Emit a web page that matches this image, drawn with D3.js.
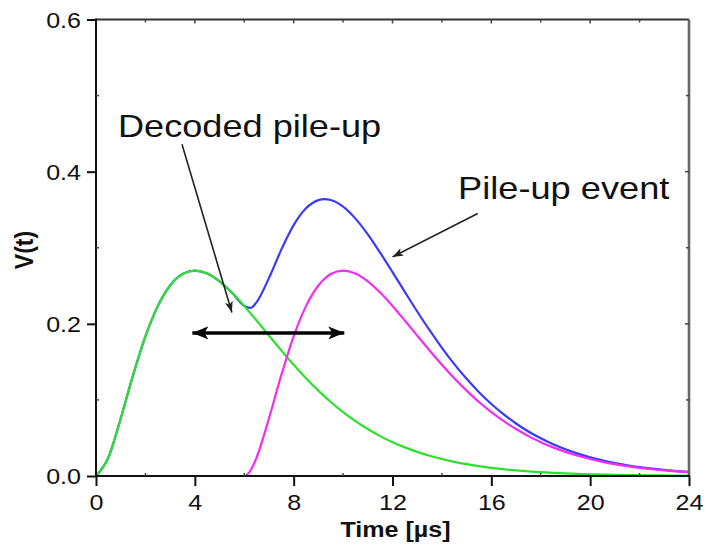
<!DOCTYPE html>
<html>
<head>
<meta charset="utf-8">
<script src="https://cdn.jsdelivr.net/npm/d3@7"></script>
<style>
  html, body { margin: 0; padding: 0; background: #fff; }
  svg { display: block; }
  text { font-family: "Liberation Sans", Arial, Helvetica, sans-serif; fill: #111; }
</style>
</head>
<body>
<svg id="chart" width="707" height="549"></svg>
<script>
// Sample times in µs (extra points at 6.25 and 9.25 resolve the dip and crest of the summed pulse)
const times = [0,0.5,1,1.5,2,2.5,3,3.5,4,4.5,5,5.5,6,6.25,6.5,7,7.5,8,8.5,9,9.25,9.5,10,10.5,11,11.5,12,12.5,13,13.5,14,14.5,15,15.5,16,16.5,17,17.5,18,18.5,19,19.5,20,20.5,21,21.5,22,22.5,23,23.5,24];

// First shaped pulse (decoded component)
const firstPulse = [0,0.0243,0.0756,0.1325,0.1835,0.2233,0.2504,0.2654,0.2700,0.2661,0.2559,0.2411,0.2235,0.2140,0.2043,0.1845,0.1650,0.1462,0.1285,0.1122,0.1046,0.0973,0.0840,0.0722,0.0617,0.0524,0.0445,0.0376,0.0317,0.0266,0.0223,0.0186,0.0155,0.0129,0.0107,0.0089,0.0073,0.0060,0.0050,0.0041,0.0034,0.0028,0.0023,0.0019,0.0015,0.0012,0.0010,0.0008,0.0007,0.0005,0.0004];

// Second shaped pulse, arriving at 6 µs (decoded component)
const secondPulse = [0,0,0,0,0,0,0,0,0,0,0,0,0,0.0069,0.0243,0.0756,0.1325,0.1835,0.2233,0.2504,0.2593,0.2654,0.2700,0.2661,0.2559,0.2411,0.2235,0.2043,0.1845,0.1650,0.1462,0.1285,0.1122,0.0973,0.0840,0.0722,0.0617,0.0524,0.0445,0.0376,0.0317,0.0266,0.0223,0.0186,0.0155,0.0129,0.0107,0.0089,0.0073,0.0060,0.0050];

// Recorded pile-up event
const pileUp = [0,0.0243,0.0756,0.1325,0.1835,0.2233,0.2504,0.2654,0.2700,0.2661,0.2559,0.2411,0.2235,0.2209,0.2286,0.2601,0.2975,0.3297,0.3518,0.3626,0.3639,0.3627,0.3540,0.3383,0.3176,0.2935,0.2680,0.2419,0.2162,0.1916,0.1685,0.1471,0.1277,0.1102,0.0947,0.0811,0.0690,0.0584,0.0495,0.0417,0.0351,0.0294,0.0246,0.0205,0.0170,0.0141,0.0117,0.0097,0.0080,0.0065,0.0054];

const xTicks = [0,4,8,12,16,20,24];
const xTickLabels = ["0","4","8","12","16","20","24"];
const yTicks = [0,0.2,0.4,0.6];
const yTickLabels = ["0.0","0.2","0.4","0.6"];
const xMinor = [2,6,10,14,18,22];
const yMinor = [0.1,0.3,0.5];

// Annotations in data units: [t0, v0, t1, v1]
const peakSpacing = [3.9, 0.188, 10.05, 0.188];
const decodedArrow = [3.48, 0.436, 5.5, 0.215];
const pileUpArrow = [15.45, 0.345, 12.0, 0.288];

const W = 707, H = 549;
const m = { left: 96, right: 707 - 689, top: 19.5, bottom: 549 - 476 };
const svg = d3.select("#chart");

const x = d3.scaleLinear().domain([0, 24]).range([m.left, W - m.right]);
const y = d3.scaleLinear().domain([0, 0.6]).range([H - m.bottom, m.top]);
const SX = 1.14; // horizontal stretch of lettering

// Arrowhead markers
const defs = svg.append("defs");
function marker(id, len, wid, color) {
  defs.append("marker")
    .attr("id", id)
    .attr("viewBox", `0 ${-wid/2} ${len} ${wid}`)
    .attr("refX", len).attr("refY", 0)
    .attr("markerUnits", "userSpaceOnUse")
    .attr("markerWidth", len).attr("markerHeight", wid)
    .attr("orient", "auto-start-reverse")
    .append("path")
    .attr("d", `M0,${-wid/2}L${len},0L0,${wid/2}L${len*0.25},0Z`)
    .attr("fill", color);
}
marker("headBig", 16, 13, "#000");
marker("headSmall", 11, 8, "#222");

// Curves
const line = d3.line().x((d, i) => x(times[i])).y(d => y(d)).curve(d3.curveMonotoneX);
const series = [
  { values: pileUp, color: "#3a3aff" },
  { values: firstPulse, color: "#2ee02e" },
  { values: secondPulse, color: "#f22cf2" }
];
svg.append("g").selectAll("path").data(series).join("path")
  .attr("d", d => line(d.values))
  .attr("fill", "none")
  .attr("stroke", d => d.color)
  .attr("stroke-width", 2.2)
  .attr("stroke-linejoin", "round");

// Frame
const x0 = x(0), x1 = x(24), y0 = y(0), y1 = y(0.6);
svg.append("line").attr("x1", x0).attr("x2", x1).attr("y1", y1).attr("y2", y1).attr("stroke", "#333").attr("stroke-width", 2.2);
svg.append("line").attr("x1", x1).attr("x2", x1).attr("y1", y1).attr("y2", y0).attr("stroke", "#666").attr("stroke-width", 2.6);
svg.append("line").attr("x1", x0).attr("x2", x0).attr("y1", y1 - 1).attr("y2", y0 + 1).attr("stroke", "#111").attr("stroke-width", 2);
svg.append("line").attr("x1", x0 - 1).attr("x2", x1 + 1).attr("y1", y0).attr("y2", y0).attr("stroke", "#111").attr("stroke-width", 2);

// Axes with outward ticks
const xAxis = svg.append("g").attr("transform", `translate(0,${y0})`)
  .call(d3.axisBottom(x).tickValues(xTicks).tickFormat((d, i) => xTickLabels[i]).tickSize(10).tickPadding(8));
const yAxis = svg.append("g").attr("transform", `translate(${x0},0)`)
  .call(d3.axisLeft(y).tickValues(yTicks).tickFormat((d, i) => yTickLabels[i]).tickSize(9).tickPadding(6));
[xAxis, yAxis].forEach(g => {
  g.select(".domain").remove();
  g.selectAll(".tick line").attr("stroke", "#111").attr("stroke-width", 2);
  g.selectAll(".tick text").attr("font-size", 22).attr("fill", "#111");
});
xAxis.selectAll(".tick text").attr("transform", `scale(${SX},1)`)
  .attr("x", 0);
yAxis.selectAll(".tick text").attr("dy", "0.36em")
  .attr("transform", function() { return `translate(-15,0) scale(${SX},1) translate(15,0)`; });

// Inward mirrored and minor ticks
const tg = svg.append("g").attr("stroke", "#444").attr("stroke-width", 1.5);
xTicks.slice(1, -1).forEach(t => tg.append("line").attr("x1", x(t)).attr("x2", x(t)).attr("y1", y1).attr("y2", y1 + 4));
xMinor.forEach(t => {
  tg.append("line").attr("x1", x(t)).attr("x2", x(t)).attr("y1", y1).attr("y2", y1 + 3);
  tg.append("line").attr("x1", x(t)).attr("x2", x(t)).attr("y1", y0).attr("y2", y0 - 3);
});
yTicks.slice(1, -1).forEach(v => tg.append("line").attr("x1", x1).attr("x2", x1 - 4).attr("y1", y(v)).attr("y2", y(v)));
yMinor.forEach(v => {
  tg.append("line").attr("x1", x1).attr("x2", x1 - 3).attr("y1", y(v)).attr("y2", y(v));
  tg.append("line").attr("x1", x0).attr("x2", x0 + 3).attr("y1", y(v)).attr("y2", y(v));
});

// Axis titles
svg.append("text")
  .attr("transform", `translate(${(x0 + x1) / 2 + 3},537) scale(${SX},1)`)
  .attr("text-anchor", "middle").attr("font-size", 22).attr("font-weight", "bold")
  .text("Time [µs]");
svg.append("text")
  .attr("transform", `translate(33,250) rotate(-90) scale(1,${SX})`)
  .attr("text-anchor", "middle").attr("font-size", 23).attr("font-weight", "bold")
  .text("V(t)");

// Annotations
svg.append("line")
  .attr("x1", x(peakSpacing[0])).attr("y1", y(peakSpacing[1]))
  .attr("x2", x(peakSpacing[2])).attr("y2", y(peakSpacing[3]))
  .attr("stroke", "#000").attr("stroke-width", 3.5)
  .attr("marker-start", "url(#headBig)").attr("marker-end", "url(#headBig)");
[decodedArrow, pileUpArrow].forEach(a => {
  svg.append("line")
    .attr("x1", x(a[0])).attr("y1", y(a[1]))
    .attr("x2", x(a[2])).attr("y2", y(a[3]))
    .attr("stroke", "#222").attr("stroke-width", 1.6)
    .attr("marker-end", "url(#headSmall)");
});

svg.append("text")
  .attr("transform", `translate(118,137) scale(1.13,1)`)
  .attr("font-size", 32).attr("fill", "#1a1a1a")
  .text("Decoded pile-up");
svg.append("text")
  .attr("transform", `translate(458,199) scale(1.15,1)`)
  .attr("font-size", 31.5).attr("fill", "#1a1a1a")
  .text("Pile-up event");
</script>
</body>
</html>
